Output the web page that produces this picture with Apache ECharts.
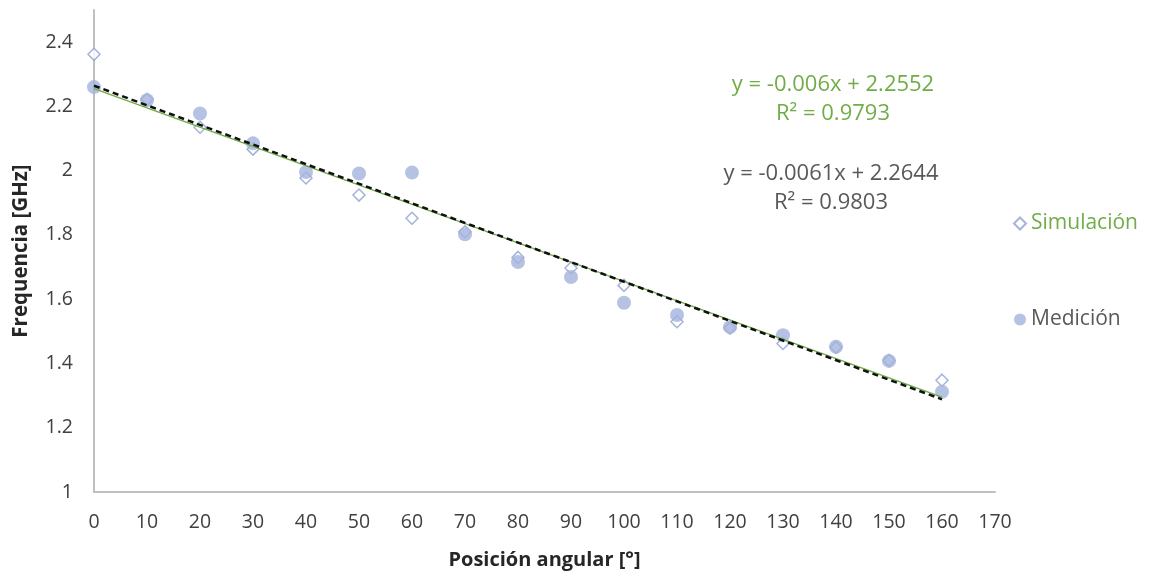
<!DOCTYPE html>
<html lang="es">
<head>
    <meta charset="UTF-8">
    <title>Frecuencia vs posición angular</title>
    <script src="https://cdn.jsdelivr.net/npm/echarts@6/dist/echarts.min.js"></script>
    <style>
        html, body { margin: 0; padding: 0; background: #fff; }
        #container { width: 1154px; height: 577px; }
    </style>
</head>
<body>
<div id="container"></div>
<script>
    // datos
    var angulos = [0, 10, 20, 30, 40, 50, 60, 70, 80, 90, 100, 110, 120, 130, 140, 150, 160];
    var simulacion = [2.362, 2.222, 2.135, 2.067, 1.977, 1.924, 1.852, 1.81, 1.73, 1.697, 1.643, 1.53, 1.51, 1.462, 1.45, 1.41, 1.348];
    var medicion = [2.26, 2.219, 2.178, 2.085, 1.996, 1.991, 1.994, 1.802, 1.716, 1.669, 1.589, 1.551, 1.513, 1.488, 1.452, 1.408, 1.312];
    var yTicks = [1, 1.2, 1.4, 1.6, 1.8, 2, 2.2, 2.4];

    // lineas de tendencia (coeficientes mostrados en el grafico)
    var tendSim = { m: -0.006, b: 2.2552, r2: 0.9793 };
    var tendMed = { m: -0.0061, b: 2.2644, r2: 0.9803 };

    function linea(t) {
        var x0 = angulos[0], x1 = angulos[angulos.length - 1];
        return [[x0, t.m * x0 + t.b], [x1, t.m * x1 + t.b]];
    }
    function par(xs, ys) {
        return xs.map(function (x, i) { return [x, ys[i]]; });
    }
    function ecuacion(t, dec) {
        return 'y = ' + t.m + 'x + ' + t.b + '\nR² = ' + t.r2.toFixed(dec);
    }

    var fuente = 'Open Sans';
    var myChart = echarts.init(document.getElementById('container'));
    var option = {
        animation: false,
        textStyle: { fontFamily: fuente },
        grid: { left: 94, right: 159, top: 10, bottom: 85 },
        legend: {
            orient: 'vertical',
            left: 1008,
            top: 208,
            itemGap: 75,
            itemWidth: 12,
            itemHeight: 12,
            data: [
                { name: 'Simulación', textStyle: { color: '#70ad47' } },
                { name: 'Medición', textStyle: { color: '#595959' } }
            ],
            textStyle: { fontSize: 21, fontFamily: fuente }
        },
        xAxis: {
            type: 'value',
            min: 0, max: 170, interval: 10,
            name: 'Posición angular [°]',
            nameLocation: 'middle',
            nameGap: 58,
            nameTextStyle: { fontSize: 20, fontWeight: 'bold', color: '#262626', fontFamily: fuente },
            splitLine: { show: false },
            axisTick: { show: false },
            axisLine: { lineStyle: { color: '#bfbfbf', width: 2 } },
            axisLabel: { fontSize: 19.5, color: '#404040', margin: 20 }
        },
        yAxis: {
            type: 'value',
            min: 1, max: 2.5, interval: 0.2,
            name: 'Frequencia [GHz]',
            nameLocation: 'middle',
            nameGap: 62,
            nameTextStyle: { fontSize: 20.5, fontWeight: 'bold', color: '#262626', fontFamily: fuente },
            splitLine: { show: false },
            axisTick: { show: false },
            axisLine: { show: true, lineStyle: { color: '#bfbfbf', width: 2 } },
            axisLabel: {
                fontSize: 19.5, color: '#404040', margin: 21,
                formatter: function (v) {
                    var r = Math.round(v * 10) / 10;
                    return yTicks.indexOf(r) >= 0 ? String(r) : '';
                }
            }
        },
        series: [
            {
                name: 'Simulación',
                type: 'scatter',
                data: par(angulos, simulacion),
                symbol: 'diamond',
                symbolSize: 12,
                itemStyle: { color: '#ffffff', borderColor: '#8e9fd2', borderWidth: 1.5 },
                z: 2
            },
            {
                name: 'Medición',
                type: 'scatter',
                data: par(angulos, medicion),
                symbol: 'circle',
                symbolSize: 14,
                itemStyle: { color: '#a4b3dc' },
                z: 3
            },
            {
                name: 'tendSim',
                type: 'line',
                data: linea(tendSim),
                showSymbol: false,
                lineStyle: { color: '#70ad47', width: 1.5 },
                z: 4
            },
            {
                name: 'tendMed',
                type: 'line',
                data: linea(tendMed),
                showSymbol: false,
                lineStyle: { color: '#111111', width: 2.5, type: [6, 4] },
                z: 5
            }
        ],
        graphic: [
            {
                type: 'text',
                style: {
                    x: 833, y: 70,
                    text: ecuacion(tendSim, 4),
                    fill: '#70ad47', font: '22px "' + fuente + '"', align: 'center', lineHeight: 29
                }
            },
            {
                type: 'text',
                style: {
                    x: 831, y: 159,
                    text: ecuacion(tendMed, 4),
                    fill: '#595959', font: '22px "' + fuente + '"', align: 'center', lineHeight: 29
                }
            }
        ]
    };
    myChart.setOption(option);
</script>
</body>
</html>
